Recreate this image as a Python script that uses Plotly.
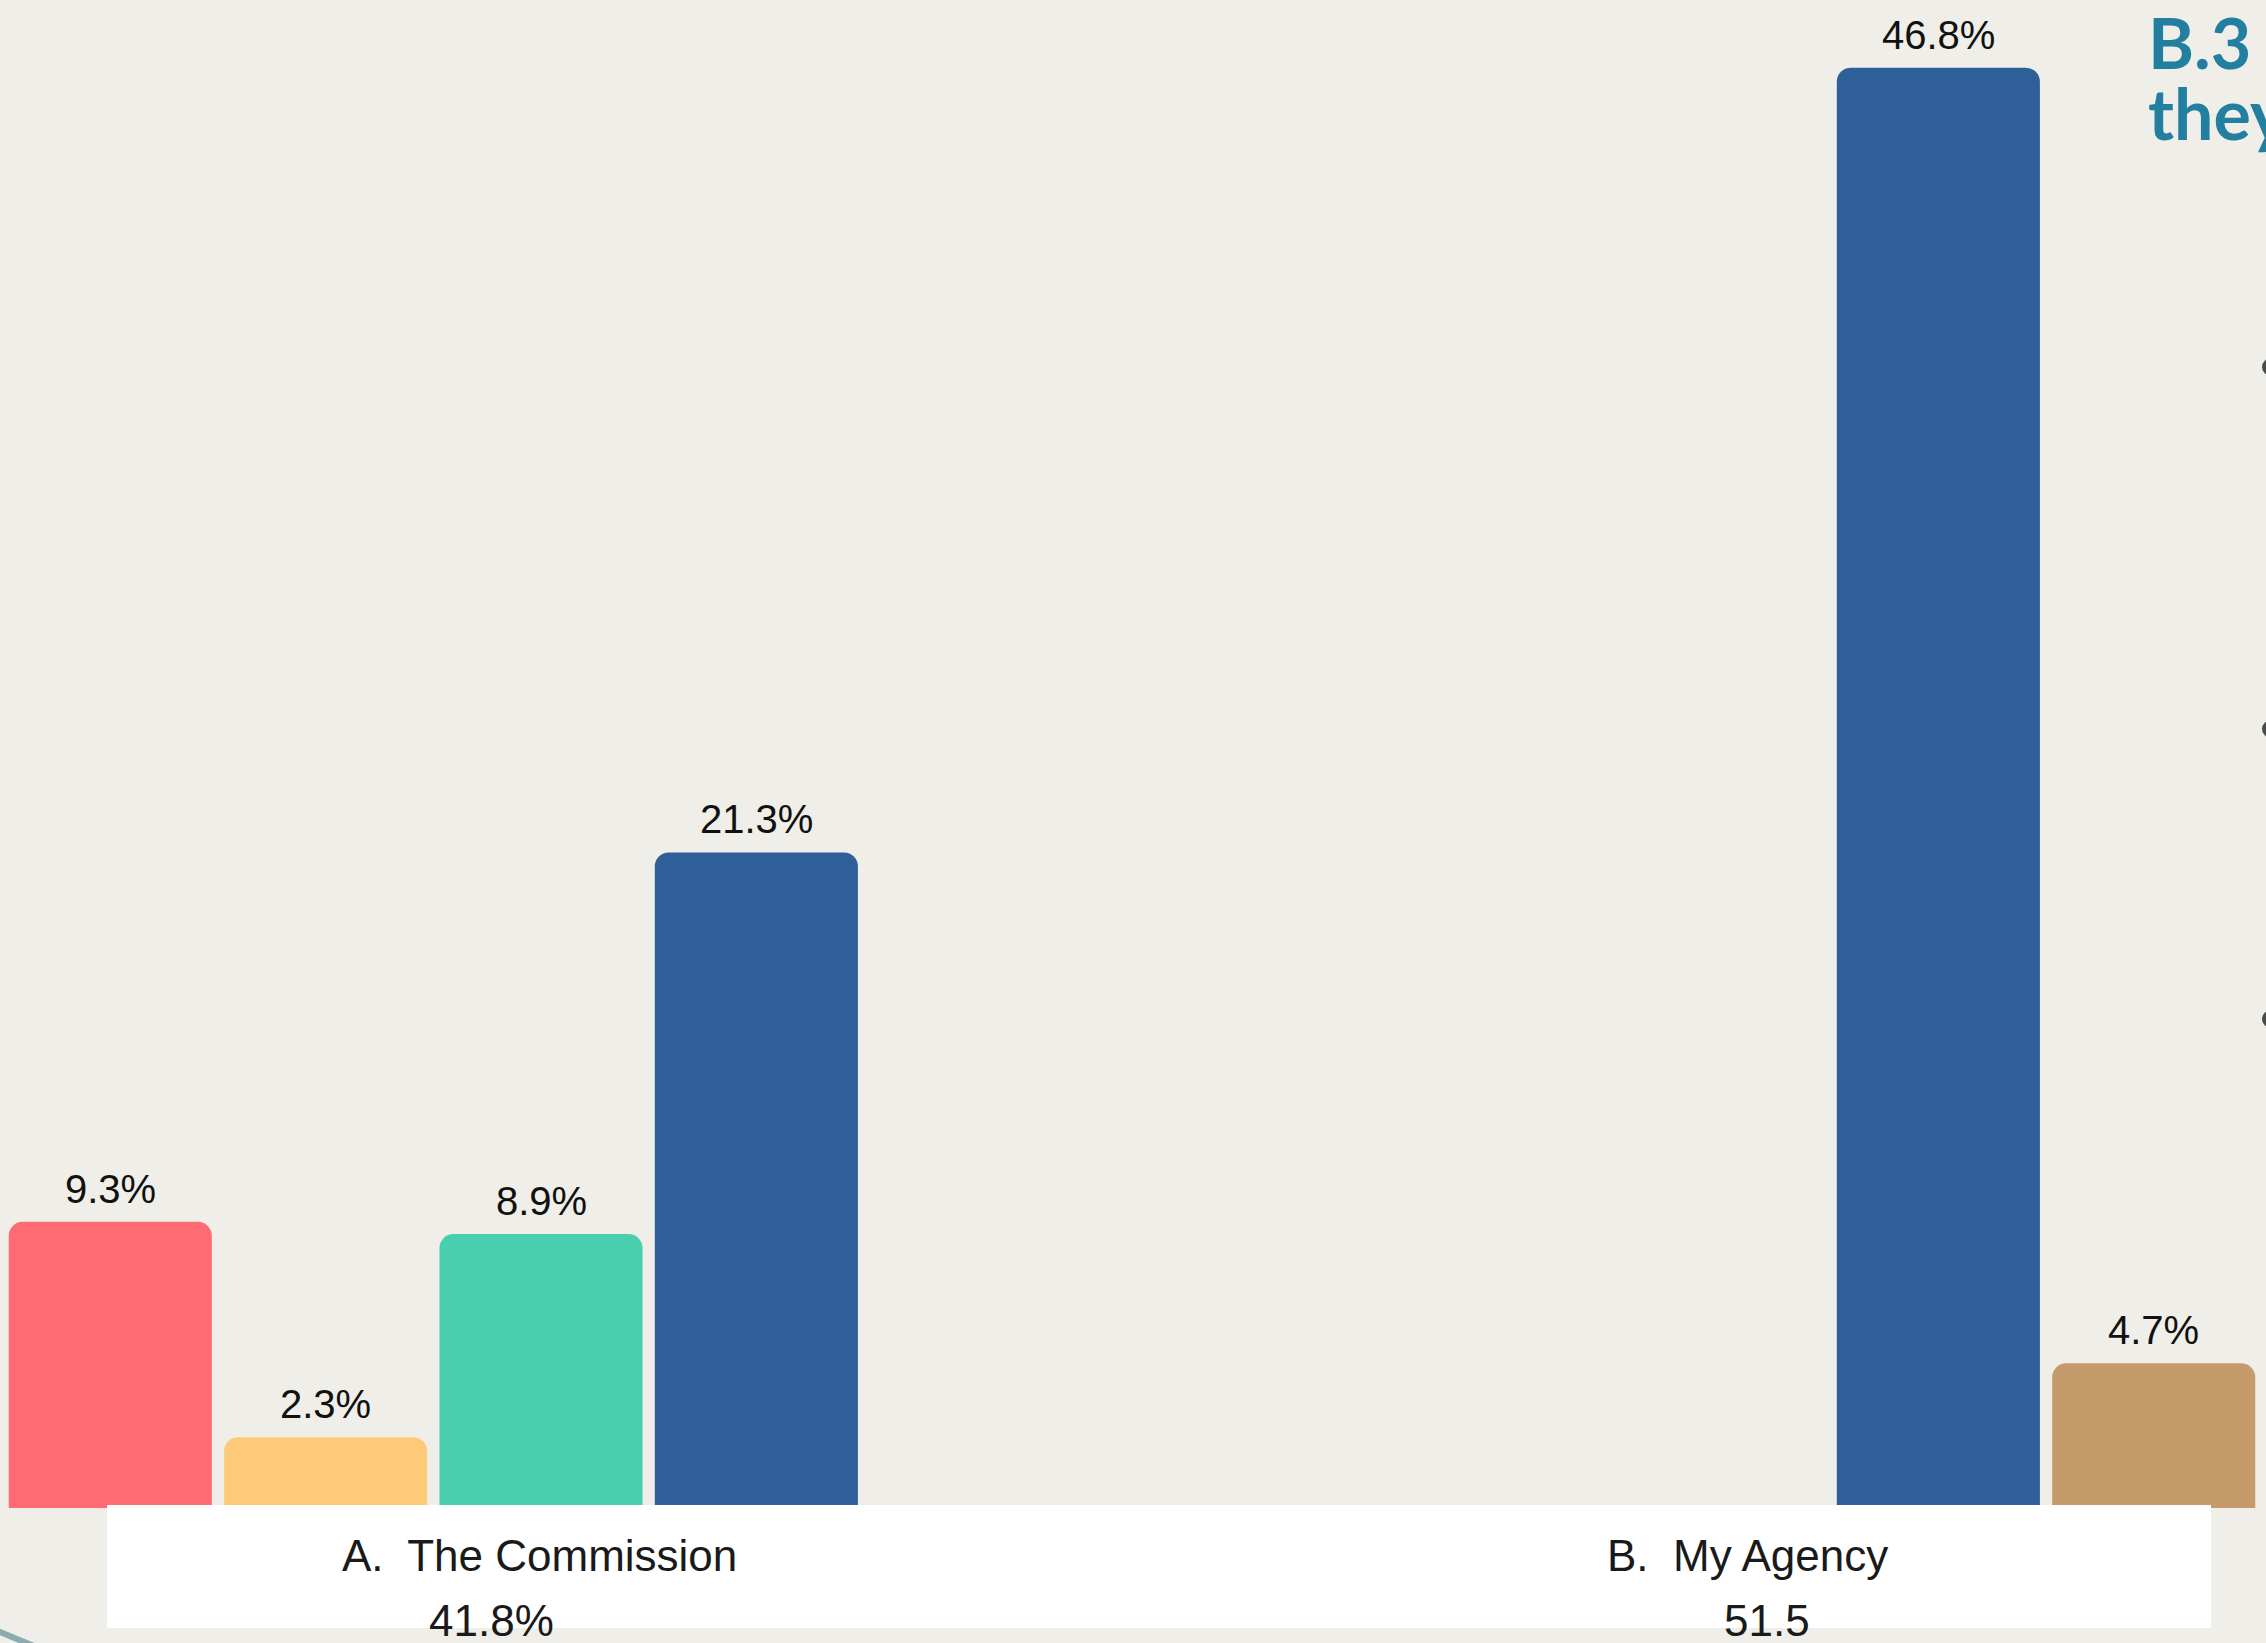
import plotly.graph_objects as go

# Share of responses per category, by answer option (percent)
categories = ["A.  The Commission", "B.  My Agency"]
totals = ["41.8%", "51.5"]
series_names = ["Option 1", "Option 2", "Option 3", "Option 4", "Option 5"]
series_colors = ["#ff6b73", "#feca7a", "#4acfae", "#2e5f98", "#c69b6c"]
opt1 = [9.3, None]
opt2 = [2.3, None]
opt3 = [8.9, None]
opt4 = [21.3, 46.8]
opt5 = [None, 4.7]
series_values = [opt1, opt2, opt3, opt4, opt5]

W, H = 2266, 1643
BG = "#efeee8"
LABEL_FONT = "Arial, Liberation Sans, sans-serif"

X_RANGE = [-0.4577, 1.4594]
Y_RANGE = [0, 49.0]
BARGAP, BARGROUPGAP = 0.089, 0.057

fig = go.Figure()
for name, color, vals in zip(series_names, series_colors, series_values):
    fig.add_trace(go.Bar(
        name=name,
        x=categories,
        y=vals,
        marker=dict(color=color, line=dict(width=0), cornerradius=14),
        hoverinfo="skip",
    ))

plot_bottom = 135  # space below the baseline for the category band
plot_h = H - plot_bottom

def py(pixel_y):
    """Convert a pixel row of the page into paper y."""
    return (plot_h - pixel_y) / plot_h

annotations = []

# Value labels above each bar, offset to the bar's slot within its group
px_per_cat = W / (X_RANGE[1] - X_RANGE[0])
slot_px = px_per_cat * (1 - BARGAP) / len(series_values)
n = len(series_values)
for i, vals in enumerate(series_values):
    for cat, v in zip(categories, vals):
        if v is None:
            continue
        annotations.append(dict(
            x=cat, xref="x", y=v, yref="y", text=f"{v}%", showarrow=False,
            xshift=(i - (n - 1) / 2) * slot_px, yshift=9,
            xanchor="center", yanchor="bottom",
            font=dict(family=LABEL_FONT, size=40, color="#111111")))

# White band holding the category labels
shapes = [
    dict(type="rect", xref="paper", yref="paper",
         x0=107 / W, x1=2211 / W, y0=py(1505), y1=py(1628),
         fillcolor="white", line=dict(width=0), layer="above"),
    # edge of a decorative line in the bottom-left corner
    dict(type="line", xref="paper", yref="paper",
         x0=-5 / W, y0=py(1630), x1=34 / W, y1=py(1646),
         line=dict(color="#8babb0", width=6), layer="above"),
]
# bullet dots of the neighbouring text column
for cy in [367, 729, 1019]:
    shapes.append(dict(type="circle", xref="paper", yref="paper",
                       x0=2262 / W, x1=2279 / W, y0=py(cy + 8.5), y1=py(cy - 8.5),
                       fillcolor="#4a4a4a", line=dict(width=0), layer="above"))

name_shift = [-2, 25]
total_shift = [-50, 44]
for cat, tot, ns, ts in zip(categories, totals, name_shift, total_shift):
    annotations.append(dict(x=cat, xref="x", y=py(1555), yref="paper",
                            text=cat, showarrow=False, xshift=ns,
                            xanchor="center", yanchor="middle",
                            font=dict(family=LABEL_FONT, size=44, color="#1a1a1a")))
    annotations.append(dict(x=cat, xref="x", y=py(1620), yref="paper",
                            text=tot, showarrow=False, xshift=ts,
                            xanchor="center", yanchor="middle",
                            font=dict(family=LABEL_FONT, size=44, color="#1a1a1a")))

# Section heading at the top right
TITLE_FONT = dict(family="Lato, Open Sans, sans-serif", size=70, color="#237fa0")
annotations.append(dict(x=2146 / W, xref="paper", y=py(42), yref="paper",
                        text="<b>B.3</b>", showarrow=False,
                        xanchor="left", yanchor="middle", font=TITLE_FONT))
annotations.append(dict(x=2146 / W, xref="paper", y=py(113), yref="paper",
                        text="<b>they</b>", showarrow=False,
                        xanchor="left", yanchor="middle", font=TITLE_FONT))

fig.update_layout(
    width=W, height=H,
    margin=dict(l=0, r=0, t=0, b=plot_bottom, pad=0),
    paper_bgcolor=BG, plot_bgcolor=BG,
    barmode="group", bargap=BARGAP, bargroupgap=BARGROUPGAP,
    showlegend=False,
    shapes=shapes,
    annotations=annotations,
)
fig.update_xaxes(range=X_RANGE, showticklabels=False, showgrid=False,
                 zeroline=False, showline=False, ticks="")
fig.update_yaxes(range=Y_RANGE, showticklabels=False, showgrid=False,
                 zeroline=False, showline=False, ticks="")

fig.write_html("out.html")
